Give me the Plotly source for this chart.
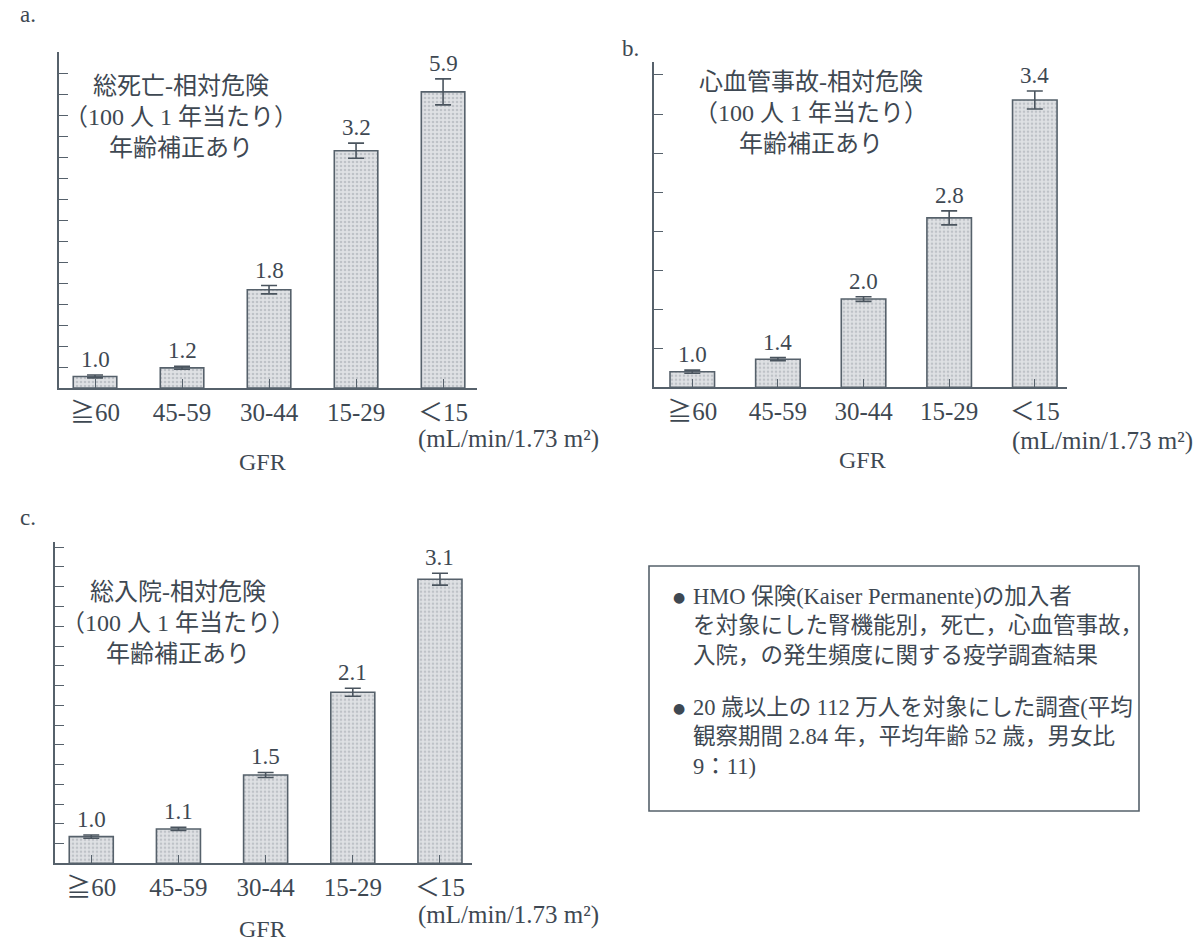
import plotly.graph_objects as go

# ---------------- data ----------------
categories = ["≧60", "45-59", "30-44", "15-29", "＜15"]

# a. total death (bar heights in axis units, ticks every 1)
death_rate = [0.55, 0.96, 4.68, 11.3, 14.1]
death_err = [0.07, 0.07, 0.2, 0.36, 0.62]
death_rr = ["1.0", "1.2", "1.8", "3.2", "5.9"]

# b. cardiovascular events (ticks every 5)
cv_rate = [2.0, 3.6, 11.3, 21.7, 36.8]
cv_err = [0.2, 0.2, 0.3, 0.9, 1.15]
cv_rr = ["1.0", "1.4", "2.0", "2.8", "3.4"]

# c. hospitalization (ticks every 10)
hosp_rate = [13.5, 17.4, 44.7, 86.6, 143.8]
hosp_err = [0.8, 0.8, 1.3, 2.0, 3.0]
hosp_rr = ["1.0", "1.1", "1.5", "2.1", "3.1"]

panel_titles = ["総死亡-相対危険", "心血管事故-相対危険", "総入院-相対危険"]
subtitle_lines = ["（100 人 1 年当たり）", "年齢補正あり"]
panel_letters = ["a.", "b.", "c."]
x_title = "GFR"
unit_label = "(mL/min/1.73 m²)"
note_paragraphs = [
    ["HMO 保険(Kaiser Permanente)の加入者",
     "を対象にした腎機能別，死亡，心血管事故，",
     "入院，の発生頻度に関する疫学調査結果"],
    ["20 歳以上の 112 万人を対象にした調査(平均",
     "観察期間 2.84 年，平均年齢 52 歳，男女比",
     "9：11)"],
]

# ---------------- style ----------------
W, H = 1201, 945
SERIF = "Liberation Serif, 'Noto Sans CJK JP', serif"
TXT = "#3e4852"
LINE = "#56616b"


def px(x):
    return x / W


def py(y):
    return 1 - y / H


fig = go.Figure()

panels = [
    # (values, errors, labels, xdomain px, ydomain px (bottom, top), xrange, yrange, dtick, barwidth)
    (death_rate, death_err, death_rr, (59, 477), (388, 52), [-0.414, 4.39], [0, 16], 1, 0.5),
    (cv_rate, cv_err, cv_rr, (654, 1067), (387.3, 61.7), [-0.447, 4.376], [0, 41.7], 5, 0.52),
    (hosp_rate, hosp_err, hosp_rr, (55, 471.7), (863.3, 541.7), [-0.416, 4.364], [0, 162.8], 10, 0.505),
]

for i, (vals, errs, labels, xd, yd, xr, yr, dt, bw) in enumerate(panels):
    n = i + 1
    xa = "x" if n == 1 else f"x{n}"
    ya = "y" if n == 1 else f"y{n}"
    fig.add_trace(go.Bar(
        x=categories, y=vals, width=bw,
        xaxis=xa, yaxis=ya,
        marker=dict(
            color="#d8dbde",
            line=dict(color=LINE, width=1.6),
            pattern=dict(shape=".", fgcolor="#9da3a9", bgcolor="#dfe1e4", size=4, solidity=0.35),
        ),
        error_y=dict(type="data", array=errs, visible=True, color="#4a545e", thickness=1.6, width=8),
        showlegend=False, hoverinfo="skip",
    ))
    axis_x = dict(
        domain=[px(xd[0]), px(xd[1])], range=xr, anchor=ya,
        showline=True, linecolor=LINE, linewidth=1.6,
        ticks="inside", ticklen=9, tickcolor=LINE, tickwidth=1.4,
        tickfont=dict(family=SERIF, size=25, color=TXT),
        ticklabelstandoff=1, showgrid=False, zeroline=False,
        type="category",
    )
    axis_y = dict(
        domain=[py(yd[0]), py(yd[1])], range=yr, anchor=xa,
        showline=True, linecolor=LINE, linewidth=1.6,
        ticks="inside", ticklen=9, tickcolor=LINE, tickwidth=1.4,
        dtick=dt, tick0=0, showticklabels=False, showgrid=False, zeroline=False,
    )
    key = "" if n == 1 else str(n)
    fig.update_layout(**{f"xaxis{key}": axis_x, f"yaxis{key}": axis_y})

    # value labels above error bars
    for c, v, e, lab in zip(categories, vals, errs, labels):
        fig.add_annotation(
            x=c, y=v + e, xref=xa, yref=ya, text=lab, showarrow=False,
            yanchor="bottom", yshift=1,
            font=dict(family=SERIF, size=23, color=TXT),
        )

# panel inner titles
title_pos = [(181, 117), (811, 113), (178, 623)]
for (cx, cy), t in zip(title_pos, panel_titles):
    fig.add_annotation(
        x=px(cx), y=py(cy), xref="paper", yref="paper",
        text="<br>".join([t] + subtitle_lines), showarrow=False,
        xanchor="center", yanchor="middle", align="center",
        font=dict(family=SERIF, size=24, color=TXT),
    )

# panel letters
for (lx, ly), t in zip([(18, 14), (620, 48), (18, 517)], panel_letters):
    fig.add_annotation(
        x=px(lx), y=py(ly), xref="paper", yref="paper", text=t, showarrow=False,
        xanchor="left", yanchor="middle",
        font=dict(family=SERIF, size=23, color=TXT),
    )

# GFR titles and unit labels
for gx, gy in [(262, 462), (862, 460), (262, 929)]:
    fig.add_annotation(
        x=px(gx), y=py(gy), xref="paper", yref="paper", text=x_title, showarrow=False,
        xanchor="center", yanchor="middle",
        font=dict(family=SERIF, size=24, color=TXT),
    )
for ux, uy in [(416, 439), (1010, 441), (416, 915)]:
    fig.add_annotation(
        x=px(ux), y=py(uy), xref="paper", yref="paper", text=unit_label, showarrow=False,
        xanchor="left", yanchor="middle",
        font=dict(family=SERIF, size=25, color=TXT),
    )

# note box
fig.add_shape(
    type="rect", xref="paper", yref="paper",
    x0=px(649), x1=px(1139), y0=py(811), y1=py(566),
    line=dict(color=LINE, width=1.6), fillcolor="rgba(0,0,0,0)",
)
for para, top in zip(note_paragraphs, [582, 693]):
    fig.add_annotation(
        x=px(671), y=py(top + 15), xref="paper", yref="paper", text="●", showarrow=False,
        xanchor="left", yanchor="middle",
        font=dict(family="DejaVu Sans", size=14, color=TXT),
    )
    fig.add_annotation(
        x=px(691), y=py(top), xref="paper", yref="paper", text="<br>".join(para),
        showarrow=False, xanchor="left", yanchor="top", align="left",
        font=dict(family=SERIF, size=22.5, color=TXT),
    )

fig.update_layout(
    width=W, height=H,
    margin=dict(l=0, r=0, t=0, b=0),
    paper_bgcolor="white", plot_bgcolor="rgba(0,0,0,0)",
    bargap=0.5,
)

fig.write_html("out.html", config={"displayModeBar": False},
               post_script="document.body.style.margin='0';")
